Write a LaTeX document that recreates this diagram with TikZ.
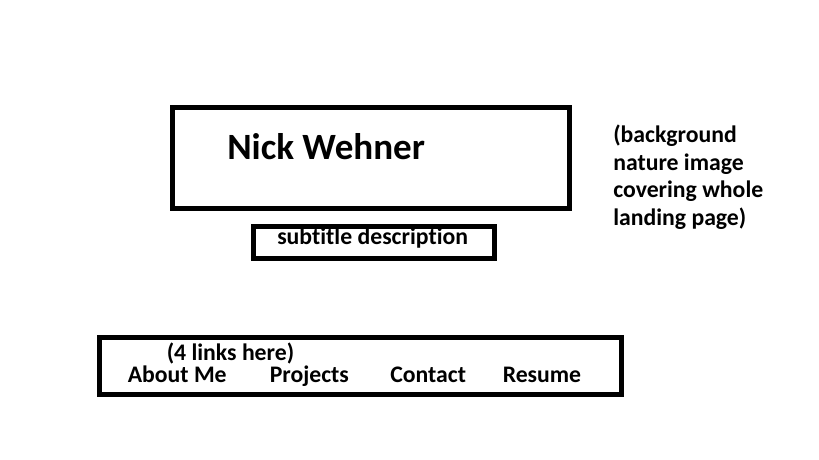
\documentclass[tikz,border=0pt]{standalone}
\usepackage{fontspec}
\setmainfont{Carlito}[Ligatures={NoCommon}]

\begin{document}
\begin{tikzpicture}[x=0.75pt,y=0.75pt,yscale=-1,xscale=1,
  frame/.style={line width=3.75pt},
  txt/.style={anchor=base west,inner sep=0pt,font=\bfseries\fontsize{17.8}{20}\selectfont},
  bigtxt/.style={anchor=base west,inner sep=0pt,font=\bfseries\fontsize{27.8}{32}\selectfont}]
\useasboundingbox (0,0) rectangle (819,460);

%Shape: Rectangle [title box]
\draw [frame]  (172.5,107.5) rectangle (569.5,208.5) ;
%Shape: Rectangle [subtitle box]
\draw [frame]  (253.5,226.5) rectangle (494,258.5) ;
%Shape: Rectangle [nav box]
\draw [frame]  (99.5,337.5) rectangle (621.5,394.5) ;

% Text Node
\draw (227,160) node [bigtxt] (title) {Nick Wehner};
% Text Node
\draw (277,244) node [txt] (subtitle) {subtitle description};
% Text Node
\draw (613,143) node [txt] (note1) {(background};
% Text Node
\draw (613,171) node [txt] (note2) {nature image};
% Text Node
\draw (613,198) node [txt] (note3) {covering whole};
% Text Node
\draw (613,225) node [txt] (note4) {landing page)};
% Text Node
\draw (166.5,360.5) node [txt] (navnote) {(4 links here)};
% Text Node
\draw (127.5,382) node [txt] (about) {About Me};
% Text Node
\draw (269.5,382) node [txt] (projects) {Projects};
% Text Node
\draw (390,382) node [txt] (contact) {Contact};
% Text Node
\draw (502.5,382) node [txt] (resume) {Resume};

\end{tikzpicture}
\end{document}
